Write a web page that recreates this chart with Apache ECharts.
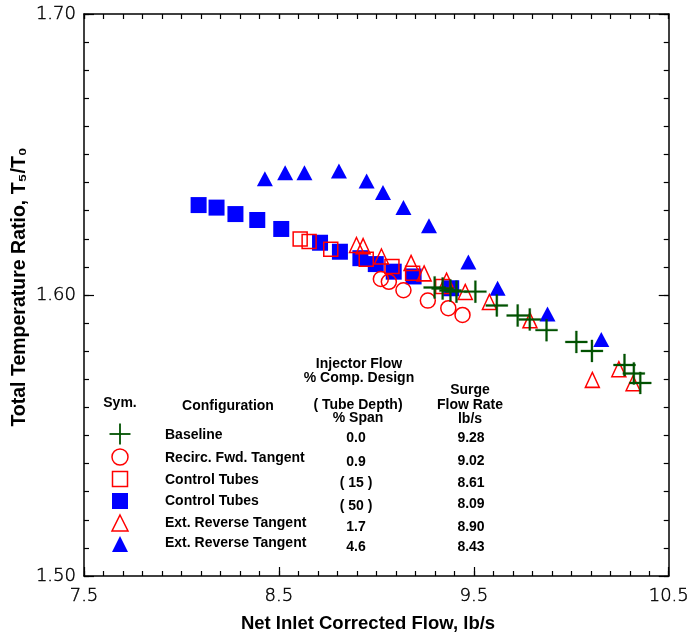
<!DOCTYPE html>
<html>
<head>
<meta charset="utf-8">
<script src="https://cdn.jsdelivr.net/npm/echarts@6/dist/echarts.min.js"></script>
<style>html,body{margin:0;padding:0;background:#fff}#c{width:692px;height:633px}</style>
</head>
<body>
<div id="c"></div>
<script>
// ---- data ----
const xMajorTicks = [7.5, 8.5, 9.5, 10.5];
const yMajorTicks = [1.50, 1.60, 1.70];

const baselineX = [9.299, 9.340, 9.380, 9.411, 9.508, 9.618, 9.725, 9.787, 9.873, 10.026, 10.106, 10.273, 10.321, 10.354];
const baselineY = [1.6027, 1.6023, 1.6016, 1.6012, 1.6012, 1.5963, 1.5927, 1.5913, 1.5875, 1.5833, 1.5801, 1.5751, 1.5721, 1.5687];

const recircX = [9.023, 9.064, 9.139, 9.264, 9.369, 9.442];
const recircY = [1.6057, 1.6047, 1.6017, 1.5980, 1.5953, 1.5929];

const ctrl15X = [8.609, 8.655, 8.766, 8.948, 9.080, 9.186, 9.340];
const ctrl15Y = [1.6199, 1.6190, 1.6163, 1.6127, 1.6101, 1.6077, 1.6030];

const ctrl50X = [8.088, 8.180, 8.277, 8.389, 8.512, 8.711, 8.813, 8.918, 8.997, 9.089, 9.191, 9.384];
const ctrl50Y = [1.6320, 1.6311, 1.6288, 1.6267, 1.6235, 1.6186, 1.6154, 1.6131, 1.6110, 1.6083, 1.6066, 1.6024];

const extRev17X = [8.898, 8.932, 9.026, 9.178, 9.245, 9.360, 9.456, 9.580, 9.788, 10.108, 10.244, 10.317];
const extRev17Y = [1.6178, 1.6174, 1.6137, 1.6114, 1.6077, 1.6051, 1.6011, 1.5975, 1.5910, 1.5698, 1.5736, 1.5686];

const extRev46X = [8.428, 8.532, 8.631, 8.808, 8.950, 9.034, 9.139, 9.270, 9.472, 9.622, 9.878, 10.154];
const extRev46Y = [1.6414, 1.6435, 1.6435, 1.6441, 1.6406, 1.6365, 1.6311, 1.6246, 1.6117, 1.6024, 1.5932, 1.5842];

const legendConfigs = ['Baseline', 'Recirc. Fwd. Tangent', 'Control Tubes', 'Control Tubes', 'Ext. Reverse Tangent', 'Ext. Reverse Tangent'];
const legendInjector = ['0.0', '0.9', '( 15 )', '( 50 )', '1.7', '4.6'];
const legendSurge = ['9.28', '9.02', '8.61', '8.09', '8.90', '8.43'];

// ---- helpers ----
const zip = (xs, ys) => xs.map((x, i) => [x, ys[i]]);
const xMinorTicks = [];
for (let i = 0; i <= 30; i++) xMinorTicks.push(+(7.5 + i * 0.1).toFixed(2));
const yMinorTicks = [];
for (let i = 0; i <= 20; i++) yMinorTicks.push(+(1.5 + i * 0.01).toFixed(3));

const GREEN = '#005200', RED = '#ff0000', BLUE = '#0000ff';
const LBL_FONT = 'DejaVu Sans';
const BOLD = 'Liberation Sans, Arial, sans-serif';

function axis(dim, position, ticks, len, showLabel, showLine, min, max) {
  return {
    type: 'value', position: position, min: min, max: max, offset: 0,
    splitLine: { show: false },
    axisLine: { show: showLine, onZero: false, lineStyle: { color: '#000', width: 1.5 } },
    axisTick: { show: true, inside: true, length: len, customValues: ticks, lineStyle: { color: '#000', width: 1.2 } },
    axisLabel: showLabel ? {
      show: true, customValues: ticks, margin: dim === 'x' ? 11 : 8,
      fontFamily: LBL_FONT, fontSize: 18, fontWeight: 200, color: '#000',
      textBorderColor: '#000', textBorderWidth: 0.45,
      formatter: v => dim === 'x' ? (+v).toFixed(1) : (+v).toFixed(2)
    } : { show: false }
  };
}

const xAxes = [
  axis('x', 'bottom', xMajorTicks, 9, true, true, 7.5, 10.5),
  axis('x', 'bottom', xMinorTicks, 5, false, false, 7.5, 10.5),
  axis('x', 'top', xMajorTicks, 5, false, true, 7.5, 10.5),
  axis('x', 'top', xMinorTicks, 5, false, false, 7.5, 10.5)
];
const yAxes = [
  axis('y', 'left', yMajorTicks, 10, true, true, 1.5, 1.7),
  axis('y', 'left', yMinorTicks, 5, false, false, 1.5, 1.7),
  axis('y', 'right', yMajorTicks, 10, false, true, 1.5, 1.7),
  axis('y', 'right', yMinorTicks, 5, false, false, 1.5, 1.7)
];

const plusPath = 'path://M0,9.1L20,9.1L20,10.9L0,10.9Z M9.1,0L10.9,0L10.9,20L9.1,20Z';

const series = [
  { name: 'ctrl50', type: 'scatter', data: zip(ctrl50X, ctrl50Y), symbol: 'rect', symbolSize: 16,
    itemStyle: { color: BLUE, opacity: 1 } },
  { name: 'ext46', type: 'scatter', data: zip(extRev46X, extRev46Y), symbol: 'triangle', symbolSize: [16, 15],
    itemStyle: { color: BLUE, opacity: 1 } },
  { name: 'recirc', type: 'scatter', data: zip(recircX, recircY), symbol: 'circle', symbolSize: 15,
    itemStyle: { color: 'rgba(255,255,255,0)', borderColor: RED, borderWidth: 1.5, opacity: 1 } },
  { name: 'ctrl15', type: 'scatter', data: zip(ctrl15X, ctrl15Y), symbol: 'rect', symbolSize: 14,
    itemStyle: { color: 'rgba(255,255,255,0)', borderColor: RED, borderWidth: 1.5, opacity: 1 } },
  { name: 'ext17', type: 'scatter', data: zip(extRev17X, extRev17Y), symbol: 'triangle', symbolSize: [14, 15],
    itemStyle: { color: 'rgba(255,255,255,0)', borderColor: RED, borderWidth: 1.5, opacity: 1 } },
  { name: 'baseline', type: 'scatter', data: zip(baselineX, baselineY), symbol: plusPath, symbolSize: 22,
    itemStyle: { color: GREEN, borderColor: GREEN, borderWidth: 0.3, opacity: 1 } }
].map(s => Object.assign(s, { xAxisIndex: 0, yAxisIndex: 0, silent: true, animation: false, emphasis: { disabled: true } }));

// ---- legend table (graphic) ----
const g = [];
function txt(t, x, y, align, size) {
  g.push({ type: 'text', x: x, y: y, silent: true,
    style: { text: t, fill: '#000', font: 'bold ' + (size || 14) + 'px ' + BOLD, textAlign: align || 'center', textVerticalAlign: 'middle' } });
}
txt('Injector Flow', 359, 364);
txt('% Comp. Design', 359, 378);
txt('Surge', 470, 390);
txt('Sym.', 120, 403);
txt('Configuration', 228, 406);
txt('( Tube Depth)', 358, 405);
txt('Flow Rate', 470, 405);
txt('% Span', 358, 418);
txt('lb/s', 470, 419);

const rowCfgY = [435, 458, 480, 501, 523, 543];
const rowInjY = [438, 462, 483, 506, 527, 547];
const rowSurY = [438, 461, 483, 504, 527, 547];
legendConfigs.forEach((c, i) => {
  txt(c, 165, rowCfgY[i], 'left');
  txt(legendInjector[i], 356, rowInjY[i]);
  txt(legendSurge[i], 471, rowSurY[i]);
});
// symbols
g.push({ type: 'line', silent: true, shape: { x1: 109.5, y1: 434, x2: 130.5, y2: 434 }, style: { stroke: GREEN, lineWidth: 1.8 } });
g.push({ type: 'line', silent: true, shape: { x1: 120, y1: 423.5, x2: 120, y2: 444.5 }, style: { stroke: GREEN, lineWidth: 1.8 } });
g.push({ type: 'circle', silent: true, shape: { cx: 120, cy: 457, r: 8 }, style: { fill: 'none', stroke: RED, lineWidth: 1.5 } });
g.push({ type: 'rect', silent: true, shape: { x: 112.5, y: 471.5, width: 15, height: 15 }, style: { fill: 'none', stroke: RED, lineWidth: 1.5 } });
g.push({ type: 'rect', silent: true, shape: { x: 112, y: 493, width: 16, height: 16 }, style: { fill: BLUE } });
g.push({ type: 'polygon', silent: true, shape: { points: [[120, 515], [128, 531], [112, 531]] }, style: { fill: 'none', stroke: RED, lineWidth: 1.5 } });
g.push({ type: 'polygon', silent: true, shape: { points: [[120, 536], [128, 552], [112, 552]] }, style: { fill: BLUE } });

// axis titles
g.push({ type: 'text', x: 368, y: 624, silent: true,
  style: { text: 'Net Inlet Corrected Flow, lb/s', fill: '#000', font: 'bold 18.5px ' + BOLD, textAlign: 'center', textVerticalAlign: 'middle' } });
g.push({ type: 'text', x: 20, y: 287, rotation: Math.PI / 2, silent: true,
  style: { text: 'Total Temperature Ratio, T\u2085/T\u2080', fill: '#000', font: 'bold 19.5px ' + BOLD, textAlign: 'center', textVerticalAlign: 'middle' } });

const chart = echarts.init(document.getElementById('c'), null, { renderer: 'canvas' });
chart.setOption({
  backgroundColor: '#fff',
  animation: false,
  grid: { left: 84, top: 14, width: 587, height: 562, containLabel: false },
  xAxis: xAxes,
  yAxis: yAxes,
  series: series,
  graphic: g
});
</script>
</body>
</html>
